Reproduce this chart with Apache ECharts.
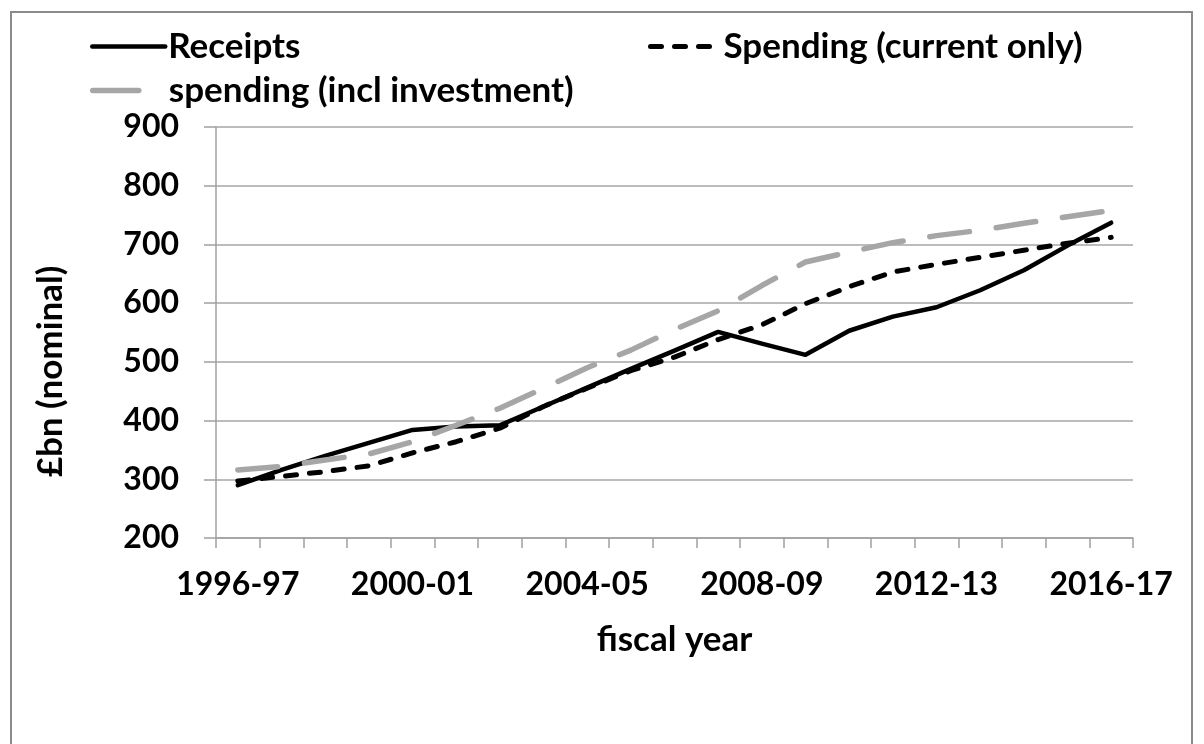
<!DOCTYPE html>
<html>
<head>
<meta charset="utf-8">
<script src="https://cdn.jsdelivr.net/npm/echarts@6/dist/echarts.min.js"></script>
<style>
  html, body { margin: 0; padding: 0; background: #ffffff; }
  #chart { width: 1204px; height: 744px; }
</style>
</head>
<body>
<div id="chart"></div>
<script>
// Fiscal years shown on the category axis
const years = [
  '1996-97', '1997-98', '1998-99', '1999-00', '2000-01', '2001-02', '2002-03',
  '2003-04', '2004-05', '2005-06', '2006-07', '2007-08', '2008-09', '2009-10',
  '2010-11', '2011-12', '2012-13', '2013-14', '2014-15', '2015-16', '2016-17'
];

// £bn, nominal
const receipts = [290, 316, 340, 362, 384, 390, 392, 424, 456, 488, 519, 551, 531, 512, 553, 577, 593, 622, 656, 698, 737];
const spendingCurrent = [297, 305, 313, 323, 345, 364, 387, 424, 455, 485, 508, 538, 563, 599, 628, 653, 666, 678, 690, 702, 712];
const spendingInclInvestment = [316, 322, 333, 343, 364, 392, 421, 455, 490, 520, 555, 587, 630, 670, 687, 703, 715, 724, 736, 747, 758];

const seriesNames = ['Receipts', 'Spending (current only)', 'spending (incl investment)'];

const FONT = 'Lato, "Open Sans", sans-serif';
const textBase = { fontFamily: FONT, fontWeight: 'bold', fontSize: 35, color: '#000000' };
const tickText = Object.assign({}, textBase, { fontSize: 32 });

const chart = echarts.init(document.getElementById('chart'), null, { renderer: 'canvas' });

// One legend block per series so each entry can sit at its own spot
function legendAt(name, left, top, itemWidth, lineStyle) {
  return {
    data: [name],
    left: left,
    top: top,
    orient: 'horizontal',
    itemWidth: itemWidth,
    itemHeight: 30,
    itemGap: 0,
    padding: 0,
    selectedMode: false,
    textStyle: Object.assign({}, textBase, { padding: [0, 0, 0, -2] }),
    itemStyle: { opacity: 0 },
    lineStyle: lineStyle
  };
}

chart.setOption({
  animation: false,
  backgroundColor: '#ffffff',
  graphic: [{
    type: 'rect',
    silent: true,
    shape: { x: 11, y: 12, width: 1181, height: 780 },
    style: { fill: 'none', stroke: '#8a8a8a', lineWidth: 2 }
  }],
  legend: [
    legendAt(seriesNames[0], 90, 29, 73, { width: 4.5 }),
    legendAt(seriesNames[1], 648, 29, 70, { width: 5 }),
    legendAt(seriesNames[2], 90, 73, 73, { width: 5.5, type: [46, 100] })
  ],
  grid: { left: 216, right: 71, top: 127, bottom: 206, containLabel: false },
  xAxis: {
    type: 'category',
    data: years,
    boundaryGap: true,
    name: 'fiscal year',
    nameLocation: 'middle',
    nameGap: 84,
    nameTextStyle: textBase,
    axisLine: { show: true, lineStyle: { color: '#a0a0a0', width: 1.5 } },
    axisTick: { show: true, interval: 0, alignWithLabel: false, length: 10, lineStyle: { color: '#a0a0a0', width: 1.5 } },
    axisLabel: Object.assign({}, tickText, { interval: 3, margin: 31 }),
    splitLine: { show: false }
  },
  yAxis: {
    type: 'value',
    min: 200,
    max: 900,
    interval: 100,
    name: '£bn (nominal)',
    nameLocation: 'middle',
    nameGap: 148,
    nameRotate: 90,
    nameTextStyle: Object.assign({}, textBase, { padding: [0, 78, 0, 0] }),
    axisLine: { show: true, lineStyle: { color: '#a0a0a0', width: 1.5 } },
    axisTick: { show: true, inside: false, length: 12, lineStyle: { color: '#a0a0a0', width: 1.5 } },
    axisLabel: Object.assign({}, tickText, { margin: 37 }),
    splitLine: { show: true, lineStyle: { color: '#a6a6a6', width: 1.5 } }
  },
  series: [
    {
      name: seriesNames[0],
      type: 'line',
      data: receipts,
      symbol: 'none',
      smooth: false,
      lineStyle: { color: '#000000', width: 4.5, type: 'solid', cap: 'round', join: 'round' },
      itemStyle: { color: '#000000' }
    },
    {
      name: seriesNames[1],
      type: 'line',
      data: spendingCurrent,
      symbol: 'none',
      smooth: false,
      lineStyle: { color: '#000000', width: 5, type: [11, 13], cap: 'round', join: 'round' },
      itemStyle: { color: '#000000' }
    },
    {
      name: seriesNames[2],
      type: 'line',
      data: spendingInclInvestment,
      symbol: 'none',
      smooth: false,
      lineStyle: { color: '#a6a6a6', width: 5.5, type: [40, 27], cap: 'round', join: 'round' },
      itemStyle: { color: '#a6a6a6' }
    }
  ]
});
</script>
</body>
</html>
